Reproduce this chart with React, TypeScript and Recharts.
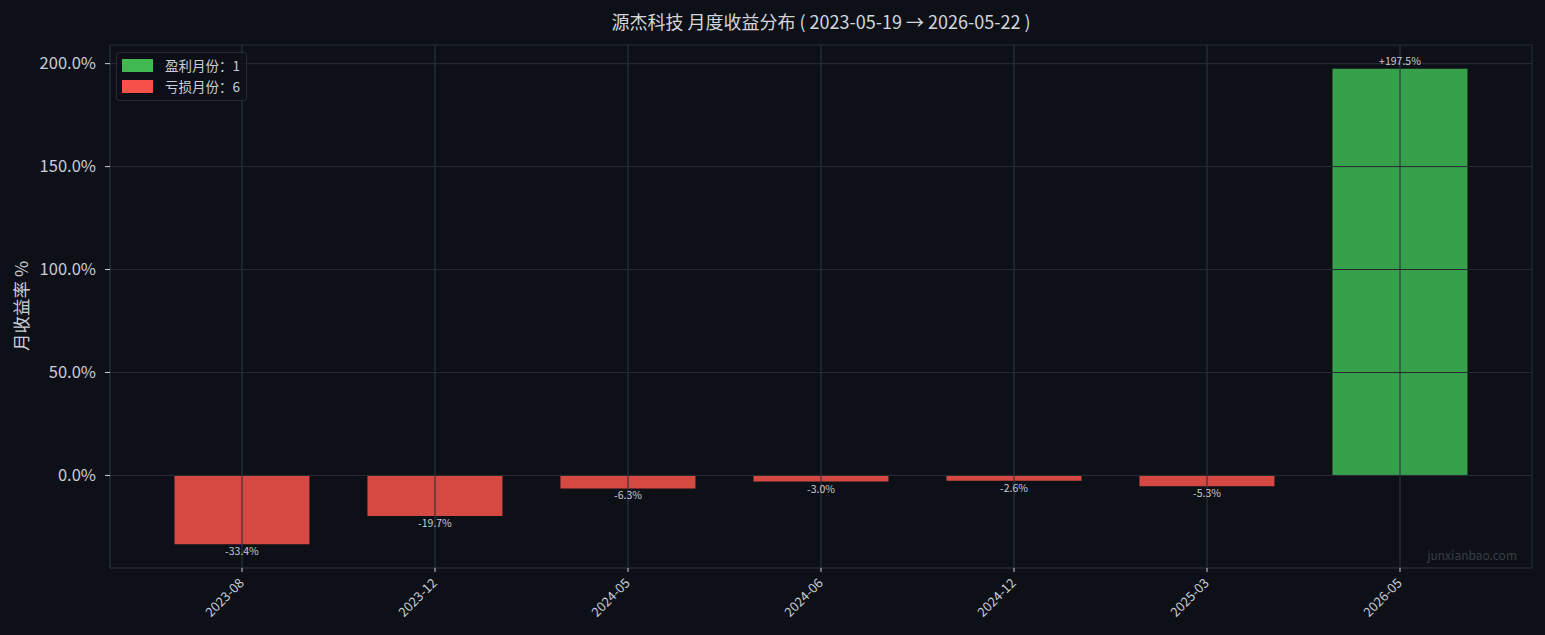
import { BarChart, Bar, XAxis, YAxis, CartesianGrid, Cell, LabelList, ReferenceLine } from "recharts";

const months = ["2023-08", "2023-12", "2024-05", "2024-06", "2024-12", "2025-03", "2026-05"];
const returns = [-33.4, -19.7, -6.3, -3.0, -2.6, -5.3, 197.5];
const yTicks = [0, 50, 100, 150, 200];

const BG = "#0d1017";
const GRID = "#262a33";
const TEXT = "#c9cdd4";
const FONT = '"Noto Sans CJK SC", "Noto Sans", sans-serif';

const data = months.map((m, i) => ({ month: m, ret: returns[i] }));
const wins = returns.filter((r) => r > 0).length;
const losses = returns.filter((r) => r < 0).length;

function BarValue(props: any) {
  const { x, y, width, height, value } = props;
  const cx = x + width / 2;
  const top = Math.min(y, y + height);
  const bottom = Math.max(y, y + height);
  if (value >= 0) {
    return (
      <text x={cx} y={top - 4} textAnchor="middle" fontSize={10.5} fill={TEXT}>
        {`+${value.toFixed(1)}%`}
      </text>
    );
  }
  return (
    <text x={cx} y={bottom + 11} textAnchor="middle" fontSize={10.5} fill={TEXT}>
      {`${value.toFixed(1)}%`}
    </text>
  );
}

function XTick(props: any) {
  const { x, y, payload } = props;
  return (
    <g transform={`translate(${x},${y + 7})`}>
      <text transform="rotate(-45)" textAnchor="end" fontSize={13} fill={TEXT} dy={4}>
        {payload.value}
      </text>
    </g>
  );
}

function LegendBox() {
  const items = [
    { label: `盈利月份：${wins}`, color: "#3fb950" },
    { label: `亏损月份：${losses}`, color: "#f85149" },
  ];
  return (
    <div
      style={{
        position: "absolute",
        left: 116,
        top: 52,
        border: `1px solid ${GRID}`,
        borderRadius: 3,
        background: "rgba(13,16,23,0.8)",
        padding: "2px 6px 3px 5px",
        fontSize: 13.5,
        color: TEXT,
        lineHeight: "21px",
        zIndex: 2,
      }}
    >
      {items.map((it) => (
        <div key={it.label} style={{ display: "flex", alignItems: "center" }}>
          <span style={{ width: 31, height: 13, background: it.color, display: "inline-block", marginRight: 12 }} />
          {it.label}
        </div>
      ))}
    </div>
  );
}

export default function App() {
  return (
    <div style={{ position: "relative", width: 1545, height: 635, background: BG, fontFamily: FONT }}>
      <style>{`body{margin:0;background:${BG};}`}</style>
      <div
        style={{
          position: "absolute",
          top: 8,
          left: 110,
          width: 1422,
          textAlign: "center",
          fontSize: 18,
          color: "#d3d6dc",
          zIndex: 2,
        }}
      >
        源杰科技 月度收益分布 ( 2023-05-19 → 2026-05-22 )
      </div>
      <div
        style={{
          position: "absolute",
          left: 20,
          top: 306,
          transform: "translate(-50%,-50%) rotate(-90deg)",
          fontSize: 17.5,
          color: TEXT,
          whiteSpace: "nowrap",
          zIndex: 2,
        }}
      >
        月收益率 %
      </div>
      <div style={{ position: "absolute", right: 28, top: 546, fontSize: 12, color: "#3a3e47", zIndex: 2 }}>
        junxianbao.com
      </div>
      <LegendBox />
      <BarChart
        width={1545}
        height={635}
        data={data}
        margin={{ top: 45, right: 13, left: 0, bottom: 0 }}
        barCategoryGap="15%"
        style={{ fontFamily: FONT }}
      >
        <CartesianGrid stroke={GRID} strokeWidth={1} />
        <XAxis
          dataKey="month"
          padding={{ left: 35.5, right: 35.5 }}
          height={67}
          tick={<XTick />}
          tickLine={{ stroke: TEXT }}
          tickSize={4}
          axisLine={{ stroke: GRID }}
          interval={0}
        />
        <XAxis xAxisId="top" orientation="top" height={0} tick={false} tickLine={false} axisLine={{ stroke: GRID }} />
        <YAxis
          width={110}
          domain={[-44.95, 209.05]}
          ticks={yTicks}
          allowDataOverflow
          tickFormatter={(v: number) => `${v.toFixed(1)}%`}
          tick={{ fontSize: 16.5, fill: TEXT }}
          tickLine={{ stroke: TEXT }}
          tickSize={5}
          tickMargin={9}
          axisLine={{ stroke: GRID }}
        />
        <YAxis yAxisId="right" orientation="right" width={0} tick={false} tickLine={false} axisLine={{ stroke: GRID }} />
        <Bar dataKey="ret" isAnimationActive={false}>
          {data.map((d) => (
            <Cell key={d.month} fill={d.ret >= 0 ? "#37a04a" : "#d44a43"} />
          ))}
          <LabelList dataKey="ret" content={<BarValue />} />
        </Bar>
        {months.map((m) => (
          <ReferenceLine key={m} x={m} stroke={GRID} strokeWidth={1} />
        ))}
        {yTicks.map((t) => (
          <ReferenceLine key={t} y={t} stroke={GRID} strokeWidth={1} />
        ))}
      </BarChart>
    </div>
  );
}
